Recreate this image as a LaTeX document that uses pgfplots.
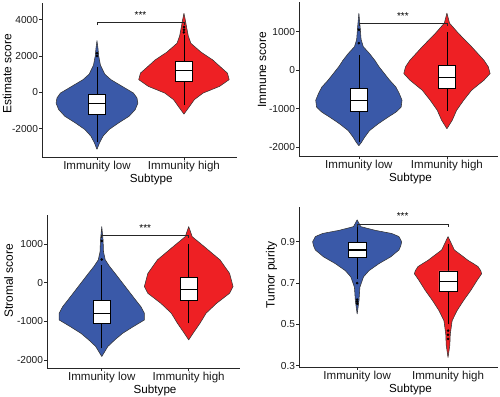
\documentclass[border=0pt]{standalone}
\usepackage{fontspec}
\setmainfont{Liberation Sans}
\usepackage{pgfplots}
\usepackage{pgfplotstable}
\pgfplotsset{compat=1.18}
\definecolor{vblue}{RGB}{58,89,168}
\definecolor{vred}{RGB}{238,32,36}

% violin outlines: value y, signed half-width w (x units) around the category centre
\pgfplotstableread{
y w
-3140 0
-2775 0.03
-2410 0.07
-2045 0.14
-1680 0.25
-1315 0.37
-950 0.44
-600 0.47
-310 0.46
-40 0.42
330 0.29
700 0.16
1000 0.09
1500 0.04
2000 0.02
2400 0.012
2850 0
2400 -0.012
2000 -0.02
1500 -0.04
1000 -0.09
700 -0.16
330 -0.29
-40 -0.42
-310 -0.46
-600 -0.47
-950 -0.44
-1315 -0.37
-1680 -0.25
-2045 -0.14
-2410 -0.07
-2775 -0.03
-3140 0
}\PAlow
\pgfplotstableread{
y w
-1200 0
-1000 0.03
-770 0.065
-400 0.12
-40 0.22
330 0.41
700 0.52
1060 0.50
1400 0.42
1790 0.33
2200 0.2
2700 0.08
3100 0.05
3600 0.03
4000 0.015
4350 0
4000 -0.015
3600 -0.03
3100 -0.05
2700 -0.08
2200 -0.2
1790 -0.33
1400 -0.42
1060 -0.50
700 -0.52
330 -0.41
-40 -0.22
-400 -0.12
-770 -0.065
-1000 -0.03
-1200 0
}\PAhigh
\pgfplotstableread{
y w
-1960 0
-1870 0.03
-1740 0.065
-1570 0.12
-1390 0.22
-1220 0.33
-1090 0.42
-960 0.48
-780 0.49
-610 0.46
-435 0.42
-260 0.35
-87 0.29
87 0.23
260 0.18
435 0.12
610 0.05
800 0.025
1100 0.015
1480 0
1100 -0.015
800 -0.025
610 -0.05
435 -0.12
260 -0.18
87 -0.23
-87 -0.29
-260 -0.35
-435 -0.42
-610 -0.46
-780 -0.49
-960 -0.48
-1090 -0.42
-1220 -0.33
-1390 -0.22
-1570 -0.12
-1740 -0.065
-1870 -0.03
-1960 0
}\PBlow
\pgfplotstableread{
y w
-1520 0
-1300 0.06
-1040 0.11
-780 0.19
-520 0.28
-260 0.42
-87 0.49
90 0.47
260 0.42
610 0.28
960 0.13
1220 0.03
1480 0
1220 -0.03
960 -0.13
610 -0.28
260 -0.42
90 -0.47
-87 -0.49
-260 -0.42
-520 -0.28
-780 -0.19
-1040 -0.11
-1300 -0.06
-1520 0
}\PBhigh
\pgfplotstableread{
y w
-1910 0
-1650 0.07
-1480 0.15
-1310 0.24
-1140 0.36
-965 0.49
-790 0.49
-620 0.45
-450 0.39
-275 0.33
-100 0.27
75 0.21
250 0.15
420 0.09
590 0.04
800 0.02
1100 0.015
1450 0
1100 -0.015
800 -0.02
590 -0.04
420 -0.09
250 -0.15
75 -0.21
-100 -0.27
-275 -0.33
-450 -0.39
-620 -0.45
-790 -0.49
-965 -0.49
-1140 -0.36
-1310 -0.24
-1480 -0.15
-1650 -0.07
-1910 0
}\PClow
\pgfplotstableread{
y w
-1480 0
-1310 0.05
-1050 0.13
-790 0.2
-535 0.32
-275 0.47
-100 0.51
70 0.49
240 0.47
590 0.36
930 0.18
1190 0.04
1450 0
1190 -0.04
930 -0.18
590 -0.36
240 -0.47
70 -0.49
-100 -0.51
-275 -0.47
-535 -0.32
-790 -0.2
-1050 -0.13
-1310 -0.05
-1480 0
}\PChigh
\pgfplotstableread{
y w
0.55 0
0.615 0.02
0.68 0.03
0.73 0.07
0.76 0.13
0.794 0.24
0.827 0.37
0.86 0.46
0.88 0.48
0.9 0.49
0.925 0.46
0.94 0.38
0.955 0.2
0.973 0.04
1.006 0
0.973 -0.04
0.955 -0.2
0.94 -0.38
0.925 -0.46
0.9 -0.49
0.88 -0.48
0.86 -0.46
0.827 -0.37
0.794 -0.24
0.76 -0.13
0.73 -0.07
0.68 -0.03
0.615 -0.02
0.55 0
}\PDlow
\pgfplotstableread{
y w
0.34 0
0.40 0.02
0.453 0.025
0.518 0.045
0.567 0.1
0.615 0.17
0.664 0.25
0.713 0.32
0.745 0.37
0.76 0.36
0.78 0.33
0.794 0.28
0.81 0.22
0.827 0.17
0.86 0.07
0.925 0
0.86 -0.07
0.827 -0.17
0.81 -0.22
0.794 -0.28
0.78 -0.33
0.76 -0.36
0.745 -0.37
0.713 -0.32
0.664 -0.25
0.615 -0.17
0.567 -0.1
0.518 -0.045
0.453 -0.025
0.40 -0.02
0.34 0
}\PDhigh

% #1 table, #2 centre, #3 colour
\newcommand{\violin}[3]{%
  \addplot[fill=#3, draw=black!80, line width=0.55pt, line join=round] table[x expr=#2+\thisrow{w}, y=y]{#1};
}
% box: #1 left, #2 centre, #3 right, #4 lower whisker, #5 lower quartile, #6 median, #7 upper quartile, #8 upper whisker
\newcommand{\bx}[8]{%
  \addplot[black, line width=0.55pt] coordinates {(#2,#4) (#2,#8)};
  \addplot[fill=white, draw=black, line width=0.55pt] coordinates {(#1,#5) (#3,#5) (#3,#7) (#1,#7) (#1,#5)};
  \addplot[black, line width=1.3pt] coordinates {(#1,#6) (#3,#6)};
}

\pgfplotsset{
  panel/.style={
    scale only axis,
    axis x line*=bottom, axis y line*=left,
    axis line style={-, black!85, line width=0.6pt},
    tick style={black!85, line width=0.6pt},
    tick align=outside, major tick length=3bp,
    xtick={1,2}, xticklabels={Immunity low, Immunity high},
    xlabel={Subtype},
    xlabel style={at={([yshift=-22bp]axis description cs:0.56,0)}, anchor=center, inner sep=0pt, font=\fontsize{11.7}{13}\selectfont},
    ylabel style={anchor=center, inner sep=0pt, font=\fontsize{12}{13}\selectfont},
    xticklabel style={font=\fontsize{11.6}{12}\selectfont, black!90, inner sep=1pt},
    yticklabel style={font=\fontsize{10.2}{11}\selectfont, black!90, inner sep=0.8pt},
    /pgf/number format/assume math mode=true,
    /pgf/number format/1000 sep={},
    scaled y ticks=false,
    clip=false,
  },
  outl/.style={only marks, mark=*, mark size=1.1bp, black},
  sig/.style={black!85, line width=0.55pt},
}
\tikzset{stars/.style={font=\fontsize{10}{11}\selectfont}}

\begin{document}
\begin{tikzpicture}
\useasboundingbox (0,0) rectangle (500bp,397bp);

% Panel 1: Estimate score
\begin{axis}[panel, at={(42bp,240bp)}, anchor=south west,
  width=195bp, height=154bp, xmin=0.368, xmax=2.61, ymin=-3560, ymax=4920,
  ytick={-2000,0,2000,4000}, ylabel={Estimate score},
  ylabel style={at={([xshift=-35bp]axis description cs:0,0.54)}}]
  \violin{\PAlow}{1}{vblue}
  \violin{\PAhigh}{2}{vred}
  \bx{0.9}{1}{1.1}{-2750}{-1225}{-600}{-130}{1400}
  \bx{1.9}{2}{2.1}{-700}{600}{1190}{1700}{3150}
  \addplot[outl] coordinates {(1,2000) (1,2150) (2,3300) (2,3450) (2,3600)};
  \addplot[sig] coordinates {(1,3700) (1,3835) (2,3835) (2,3700)};
  \node[stars] at (axis cs:1.5,4230) {***};
\end{axis}

% Panel 2: Immune score
\begin{axis}[panel, at={(299bp,241bp)}, anchor=south west,
  width=199bp, height=154bp, xmin=0.32, xmax=2.58, ymin=-2226, ymax=1770,
  ytick={-2000,-1000,0,1000}, ylabel={Immune score},
  ylabel style={at={([xshift=-37bp]axis description cs:0,0.56)}}]
  \violin{\PBlow}{1}{vblue}
  \violin{\PBhigh}{2}{vred}
  \bx{0.9}{1}{1.1}{-1850}{-1070}{-780}{-480}{400}
  \bx{1.9}{2}{2.1}{-1050}{-460}{-190}{130}{1000}
  \addplot[outl] coordinates {(1,700) (1,1050)};
  \addplot[sig] coordinates {(1,1150) (1,1220) (2,1220) (2,1150)};
  \node[stars] at (axis cs:1.5,1400) {***};
\end{axis}

% Panel 3: Stromal score
\begin{axis}[panel, at={(47bp,29bp)}, anchor=south west,
  width=193bp, height=153bp, xmin=0.37, xmax=2.59, ymin=-2207, ymax=1750,
  ytick={-2000,-1000,0,1000}, ylabel={Stromal score},
  ylabel style={at={([xshift=-38.5bp]axis description cs:0,0.57)}}]
  \violin{\PClow}{1}{vblue}
  \violin{\PChigh}{2}{vred}
  \bx{0.9}{1}{1.1}{-1700}{-1050}{-790}{-450}{450}
  \bx{1.9}{2}{2.1}{-1050}{-450}{-170}{130}{1000}
  \addplot[outl] coordinates {(1,600) (1,1080)};
  \addplot[sig] coordinates {(1,1160) (1,1230) (2,1230) (2,1160)};
  \node[stars] at (axis cs:1.5,1400) {***};
\end{axis}

% Panel 4: Tumor purity
\begin{axis}[panel, at={(299bp,30bp)}, anchor=south west,
  width=199bp, height=160bp, xmin=0.36, xmax=2.55, ymin=0.294, ymax=1.068,
  ytick={0.3,0.5,0.7,0.9}, ylabel={Tumor purity},
  ylabel style={at={([xshift=-27.5bp]axis description cs:0,0.575)}},
  yticklabel style={/pgf/number format/fixed, /pgf/number format/precision=1, /pgf/number format/fixed zerofill}]
  \violin{\PDlow}{1}{vblue}
  \violin{\PDhigh}{2}{vred}
  \bx{0.9}{1}{1.1}{0.72}{0.824}{0.86}{0.895}{0.975}
  \bx{1.9}{2}{2.1}{0.50}{0.661}{0.708}{0.759}{0.89}
  \addplot[outl] coordinates {(1,0.70) (1,0.62) (1,0.61) (1,0.60) (2,0.47) (2,0.45) (2,0.43)};
  \addplot[sig] coordinates {(1,0.97) (1,0.986) (2,0.986) (2,0.97)};
  \node[stars] at (axis cs:1.5,1.022) {***};
\end{axis}
\end{tikzpicture}
\end{document}
